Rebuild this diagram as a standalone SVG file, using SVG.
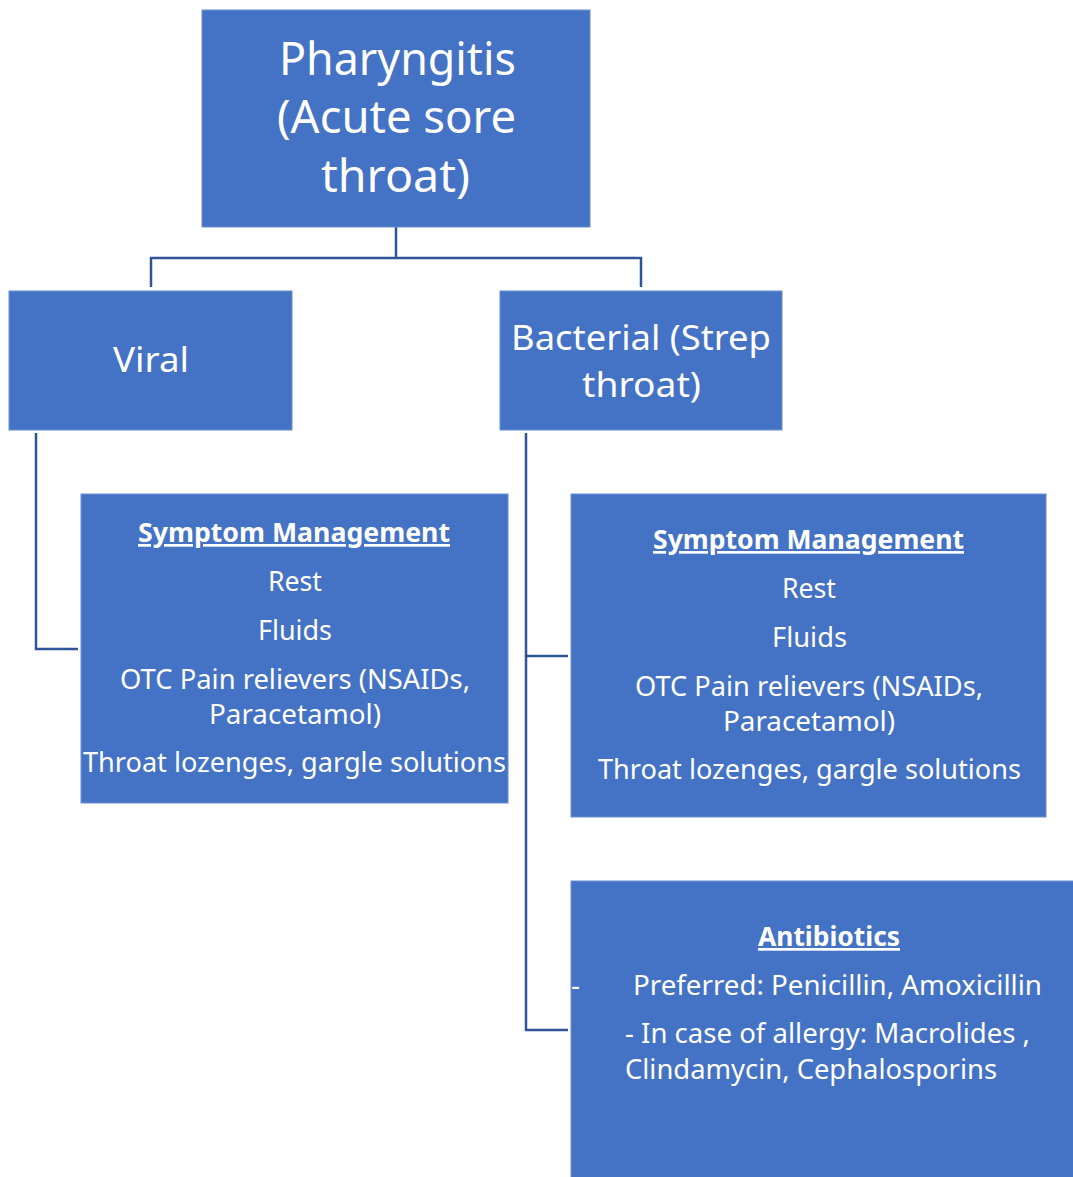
<svg xmlns="http://www.w3.org/2000/svg" width="1073" height="1177" viewBox="0 0 1073 1177">
<style>
.box{fill:#4472C4;stroke:#6A8FD3;stroke-width:1}
.t{font-family:"Noto Sans","Open Sans","Liberation Sans",sans-serif;fill:#FFFFFF;text-anchor:middle}
.tl{font-family:"Noto Sans","Open Sans","Liberation Sans",sans-serif;fill:#FFFFFF}
.b{font-weight:bold;text-decoration:underline}
.c{fill:none;stroke:#2F5597;stroke-width:2.5}
</style>
<rect width="1073" height="1177" fill="#FFFFFF"/>
<g id="connectors">
<path class="c" d="M396,227 V258 M151,287 V258 H641 V287"/>
<path class="c" d="M36,433 V649 H78"/>
<path class="c" d="M526,433 V1030 H568 M526,656 H568"/>
</g>
<g id="node-pharyngitis">
<rect class="box" x="202" y="10" width="388" height="217"/>
<text class="t" font-size="45" x="397.5" y="75" textLength="237" lengthAdjust="spacingAndGlyphs">Pharyngitis</text>
<text class="t" font-size="45" x="396.5" y="133" textLength="239" lengthAdjust="spacingAndGlyphs">(Acute  sore</text>
<text class="t" font-size="45" x="395.5" y="192" textLength="149" lengthAdjust="spacingAndGlyphs">throat)</text>
</g>
<g id="node-viral">
<rect class="box" x="9" y="291" width="283" height="139"/>
<text class="t" font-size="35" x="151" y="372" textLength="76" lengthAdjust="spacingAndGlyphs">Viral</text>
</g>
<g id="node-bacterial">
<rect class="box" x="500" y="291" width="282" height="139"/>
<text class="t" font-size="35" x="641" y="350" textLength="260" lengthAdjust="spacingAndGlyphs">Bacterial (Strep</text>
<text class="t" font-size="35" x="641.5" y="397" textLength="119" lengthAdjust="spacingAndGlyphs">throat)</text>
</g>
<g id="node-viral-symptom">
<rect class="box" x="81" y="494" width="427" height="309"/>
<text class="t b" font-size="27" x="294" y="542" textLength="312" lengthAdjust="spacingAndGlyphs">Symptom Management</text>
<text class="t" font-size="28" x="295" y="591" textLength="54" lengthAdjust="spacingAndGlyphs">Rest</text>
<text class="t" font-size="28" x="295" y="640" textLength="74" lengthAdjust="spacingAndGlyphs">Fluids</text>
<text class="t" font-size="28" x="295" y="689" textLength="350" lengthAdjust="spacingAndGlyphs">OTC Pain relievers (NSAIDs,</text>
<text class="t" font-size="28" x="295" y="724" textLength="172" lengthAdjust="spacingAndGlyphs">Paracetamol)</text>
<text class="t" font-size="28" x="294.5" y="772" textLength="423" lengthAdjust="spacingAndGlyphs">Throat lozenges, gargle solutions</text>
</g>
<g id="node-bacterial-symptom">
<rect class="box" x="571" y="494" width="475" height="323"/>
<text class="t b" font-size="27" x="808.5" y="549" textLength="311" lengthAdjust="spacingAndGlyphs">Symptom Management</text>
<text class="t" font-size="28" x="809" y="598" textLength="54" lengthAdjust="spacingAndGlyphs">Rest</text>
<text class="t" font-size="28" x="809.5" y="647" textLength="75" lengthAdjust="spacingAndGlyphs">Fluids</text>
<text class="t" font-size="28" x="809" y="696" textLength="348" lengthAdjust="spacingAndGlyphs">OTC Pain relievers (NSAIDs,</text>
<text class="t" font-size="28" x="809" y="731" textLength="172" lengthAdjust="spacingAndGlyphs">Paracetamol)</text>
<text class="t" font-size="28" x="809.5" y="779" textLength="423" lengthAdjust="spacingAndGlyphs">Throat lozenges, gargle solutions</text>
</g>
<g id="node-antibiotics">
<rect class="box" x="571" y="881" width="503" height="297"/>
<text class="t b" font-size="27" x="829" y="946" textLength="142" lengthAdjust="spacingAndGlyphs">Antibiotics</text>
<text class="tl" font-size="28" x="571" y="995">-</text>
<text class="tl" font-size="28" x="633" y="995" textLength="409" lengthAdjust="spacingAndGlyphs">Preferred: Penicillin, Amoxicillin</text>
<text class="tl" font-size="28" x="625" y="1043" textLength="405" lengthAdjust="spacingAndGlyphs">- In case of allergy: Macrolides ,</text>
<text class="tl" font-size="28" x="625" y="1079" textLength="372" lengthAdjust="spacingAndGlyphs">Clindamycin, Cephalosporins</text>
</g>
</svg>
